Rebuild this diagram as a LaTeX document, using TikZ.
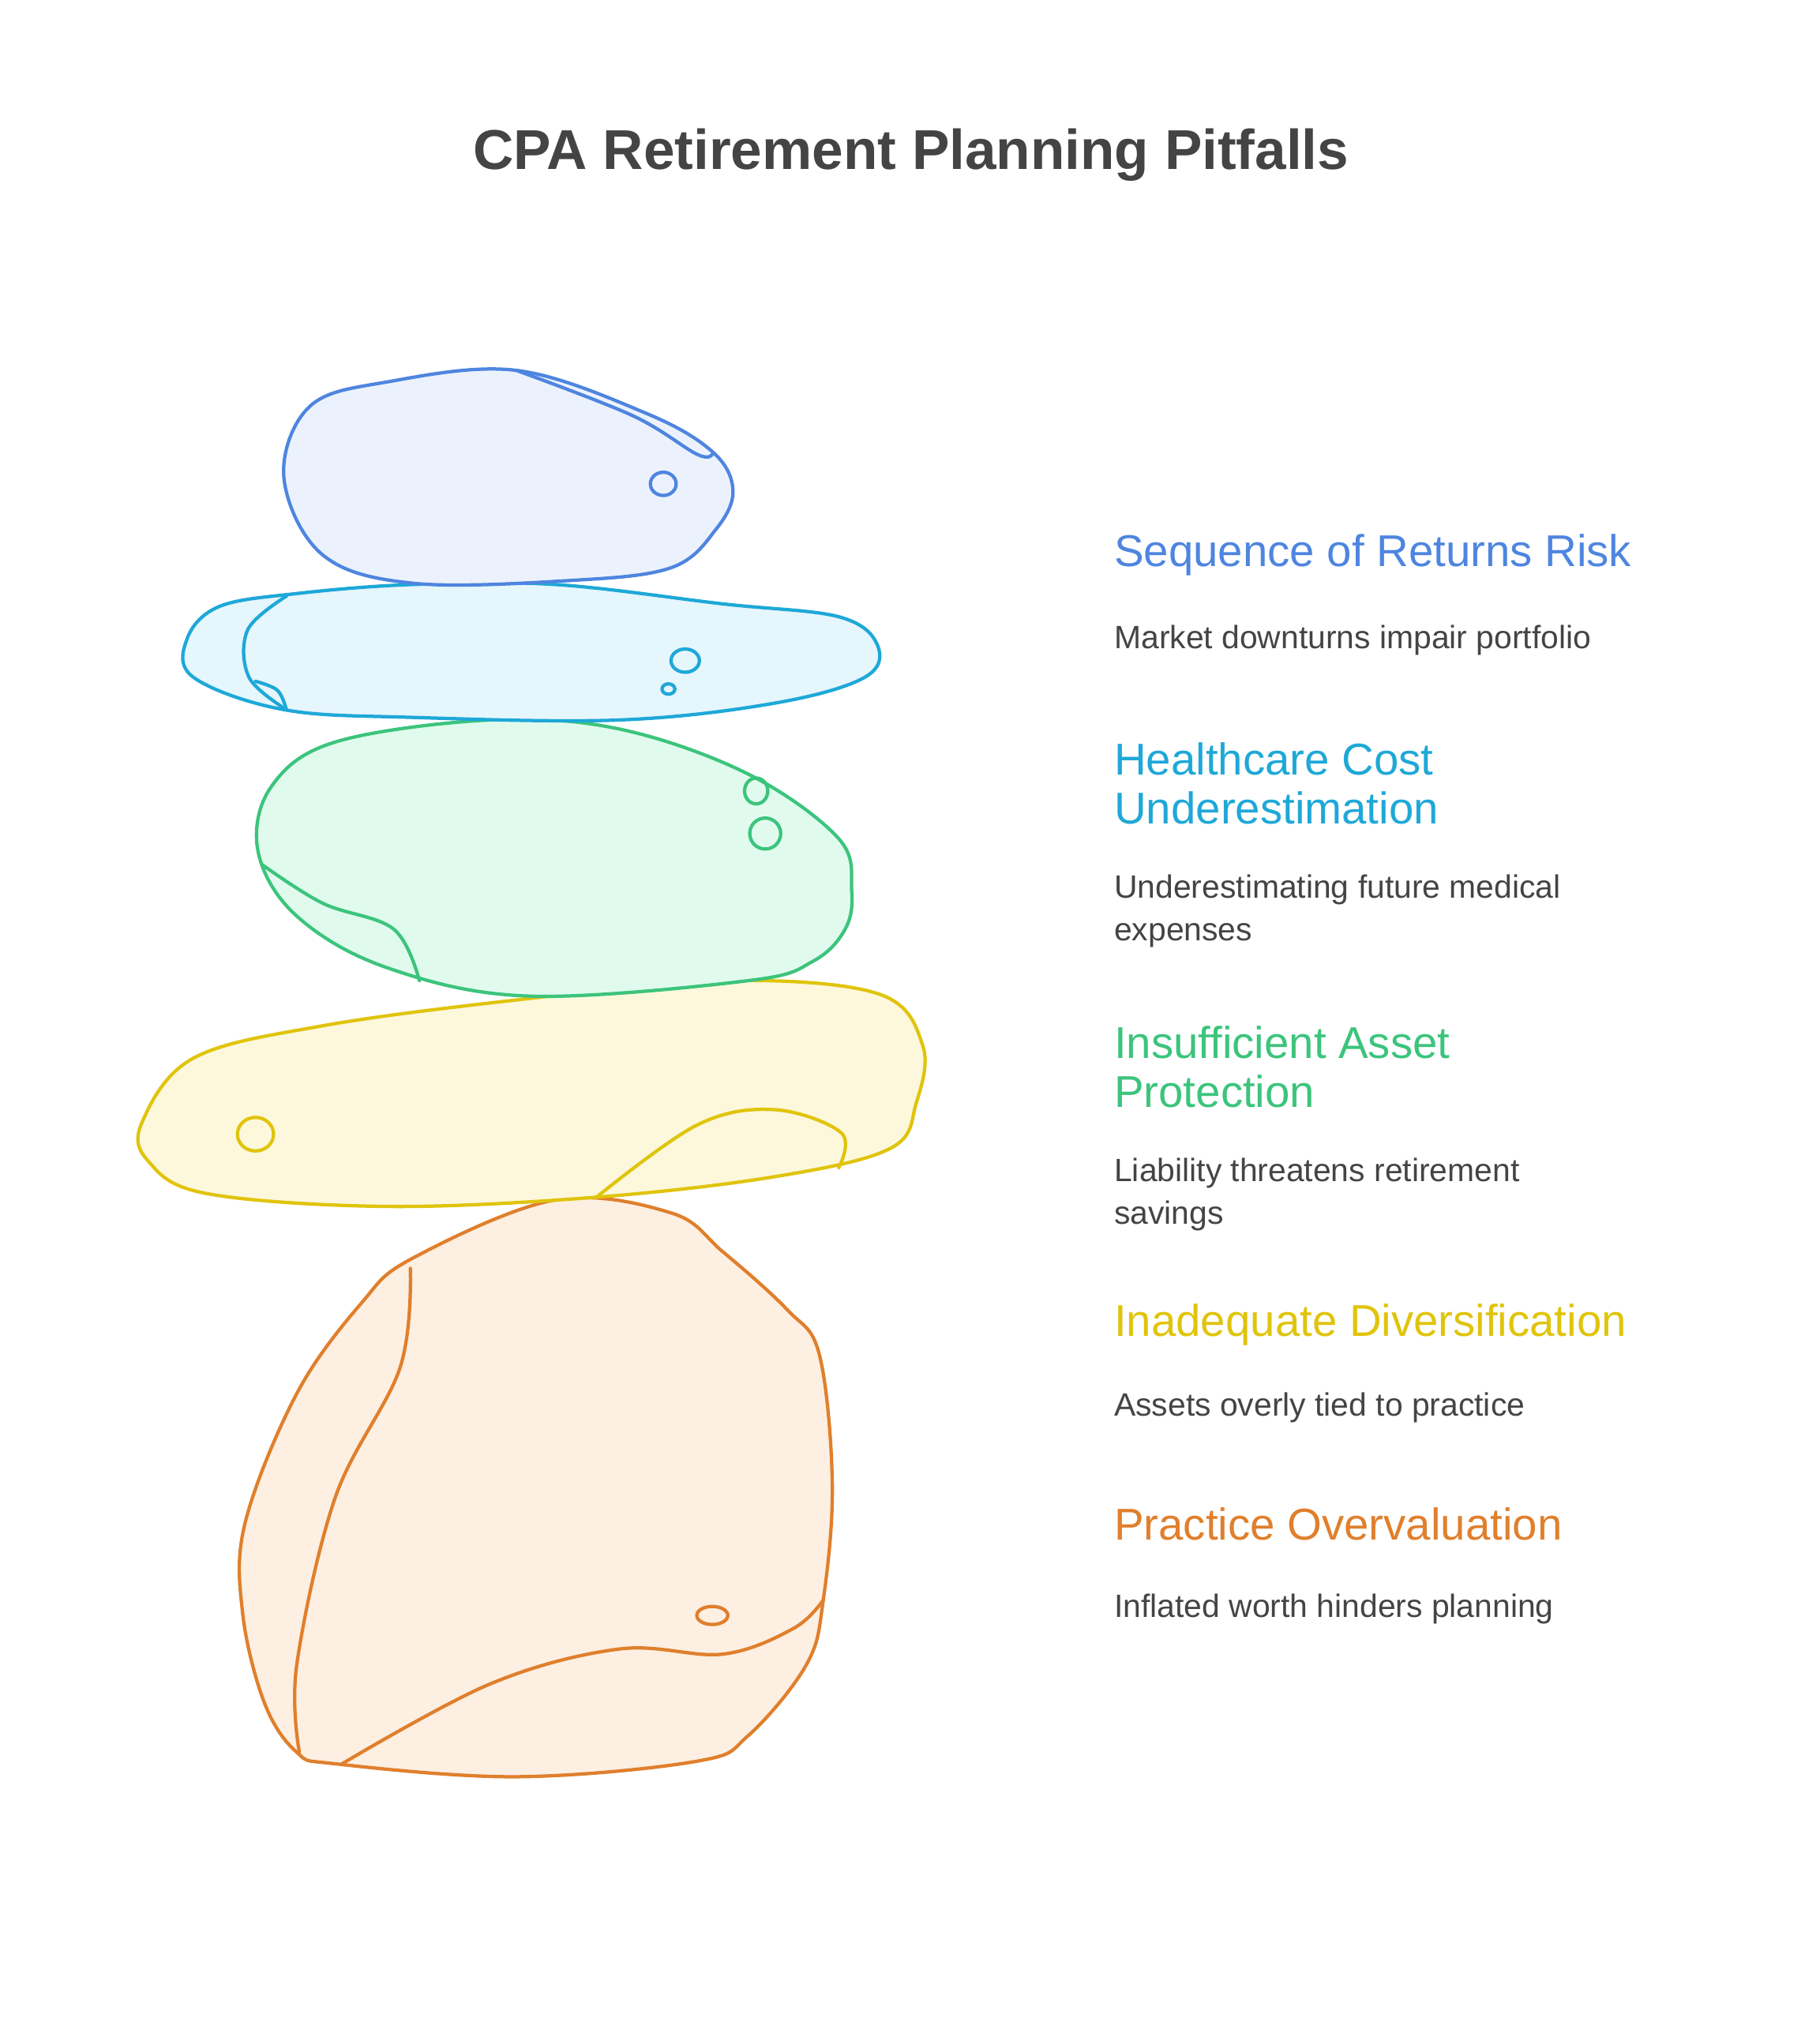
\documentclass[tikz,border=0pt]{standalone}
\usepackage{fontspec}
\setmainfont{Liberation Sans}
\definecolor{cb}{HTML}{4E85E0}\definecolor{fb}{HTML}{ECF2FD}
\definecolor{cc}{HTML}{1EA8D8}\definecolor{fc}{HTML}{E5F6FC}
\definecolor{cg}{HTML}{3CC47C}\definecolor{fg}{HTML}{E0FBEE}
\definecolor{cy}{HTML}{E0C40C}\definecolor{fy}{HTML}{FDF8DC}
\definecolor{co}{HTML}{E07F2C}\definecolor{fo}{HTML}{FDEFE2}
\definecolor{tx}{HTML}{444444}
\tikzset{st/.style={line width=2.6pt,line join=round,line cap=round},
 hd/.style={anchor=west,font=\fontsize{34.5}{38}\selectfont,align=left},
 ds/.style={anchor=west,font=\fontsize{25}{33}\selectfont,text=tx,align=left}}
\begin{document}
\begin{tikzpicture}[x=1pt,y=-1pt]
\useasboundingbox (0,0) rectangle (1410,1564);
\node[font=\bfseries\fontsize{43.5}{48}\selectfont,text=tx] (t) at (706,120) {CPA Retirement Planning Pitfalls};
% orange
\draw[st,co,fill=fo] plot[smooth cycle,tension=0.6] coordinates{(320,975)(430,930)(520,940)(560,970)(610,1015)(635,1050)(645,1150)(638,1240)(625,1290)(580,1345)(540,1365)(400,1377)(260,1367)(230,1358)(205,1320)(188,1250)(190,1180)(230,1080)(280,1010)};
\draw[st,co] plot[smooth,tension=0.6] coordinates{(318,983)(310,1060)(260,1160)(230,1290)(232,1358)};
\draw[st,co] plot[smooth,tension=0.6] coordinates{(265,1367)(380,1305)(480,1278)(560,1282)(615,1262)(638,1240)};
\draw[st,co] (552,1252) ellipse (12 and 7);
% yellow
\draw[st,cy,fill=fy] plot[smooth cycle,tension=0.6] coordinates{(110,870)(150,820)(250,795)(400,775)(560,760)(680,770)(715,810)(710,855)(690,890)(600,912)(460,928)(300,935)(160,925)(115,900)};
\draw[st,cy] plot[smooth,tension=0.6] coordinates{(462,928)(540,872)(600,860)(652,878)(650,905)};
\draw[st,cy] (198,879) ellipse (14 and 13);
% green
\draw[st,cg,fill=fg] plot[smooth cycle,tension=0.6] coordinates{(200,660)(210,610)(260,575)(380,558)(480,565)(580,600)(650,650)(660,690)(655,720)(630,745)(580,760)(410,772)(300,750)(230,710)};
\draw[st,cg] plot[smooth,tension=0.6] coordinates{(203,670)(250,700)(305,720)(325,760)};
\draw[st,cg] (586,613) ellipse (9 and 10);
\draw[st,cg] (593,646) ellipse (12 and 12);
% cyan
\draw[st,cc,fill=fc] plot[smooth cycle,tension=0.6] coordinates{(150,525)(145,495)(170,470)(230,460)(320,453)(430,453)(560,468)(650,478)(680,500)(670,525)(600,545)(480,558)(320,556)(220,550)};
\draw[st,cc] plot[smooth,tension=0.6] coordinates{(222,462)(192,488)(193,525)(222,550)};
\draw[st,cc] plot[smooth,tension=0.6] coordinates{(198,528)(215,535)(222,550)};
\draw[st,cc] (531,512) ellipse (11 and 9);
\draw[st,cc] (518,534) ellipse (5 and 4);
% blue
\draw[st,cb,fill=fb] plot[smooth cycle,tension=0.6] coordinates{(220,370)(240,315)(300,296)(400,287)(500,320)(552,350)(568,380)(555,410)(520,440)(440,450)(320,452)(250,430)};
\draw[st,cb] plot[smooth,tension=0.6] coordinates{(400,287)(490,322)(540,352)(552,352)};
\draw[st,cb] (514,375) ellipse (10 and 9);
% texts
\node[hd,text=cb] (h1) at (860,430) {Sequence of Returns Risk};
\node[ds] (d1) at (860,496) {Market downturns impair portfolio};
\node[hd,text=cc] (h2) at (860,607) {Healthcare Cost\\Underestimation};
\node[ds] (d2) at (860,706) {Underestimating future medical\\expenses};
\node[hd,text=cg] (h3) at (860,827) {Insufficient Asset\\Protection};
\node[ds] (d3) at (860,926) {Liability threatens retirement\\savings};
\node[hd,text=cy] (h4) at (860,1027) {Inadequate Diversification};
\node[ds] (d4) at (860,1091) {Assets overly tied to practice};
\node[hd,text=co] (h5) at (860,1181) {Practice Overvaluation};
\node[ds] (d5) at (860,1247) {Inflated worth hinders planning};
\end{tikzpicture}
\end{document}
